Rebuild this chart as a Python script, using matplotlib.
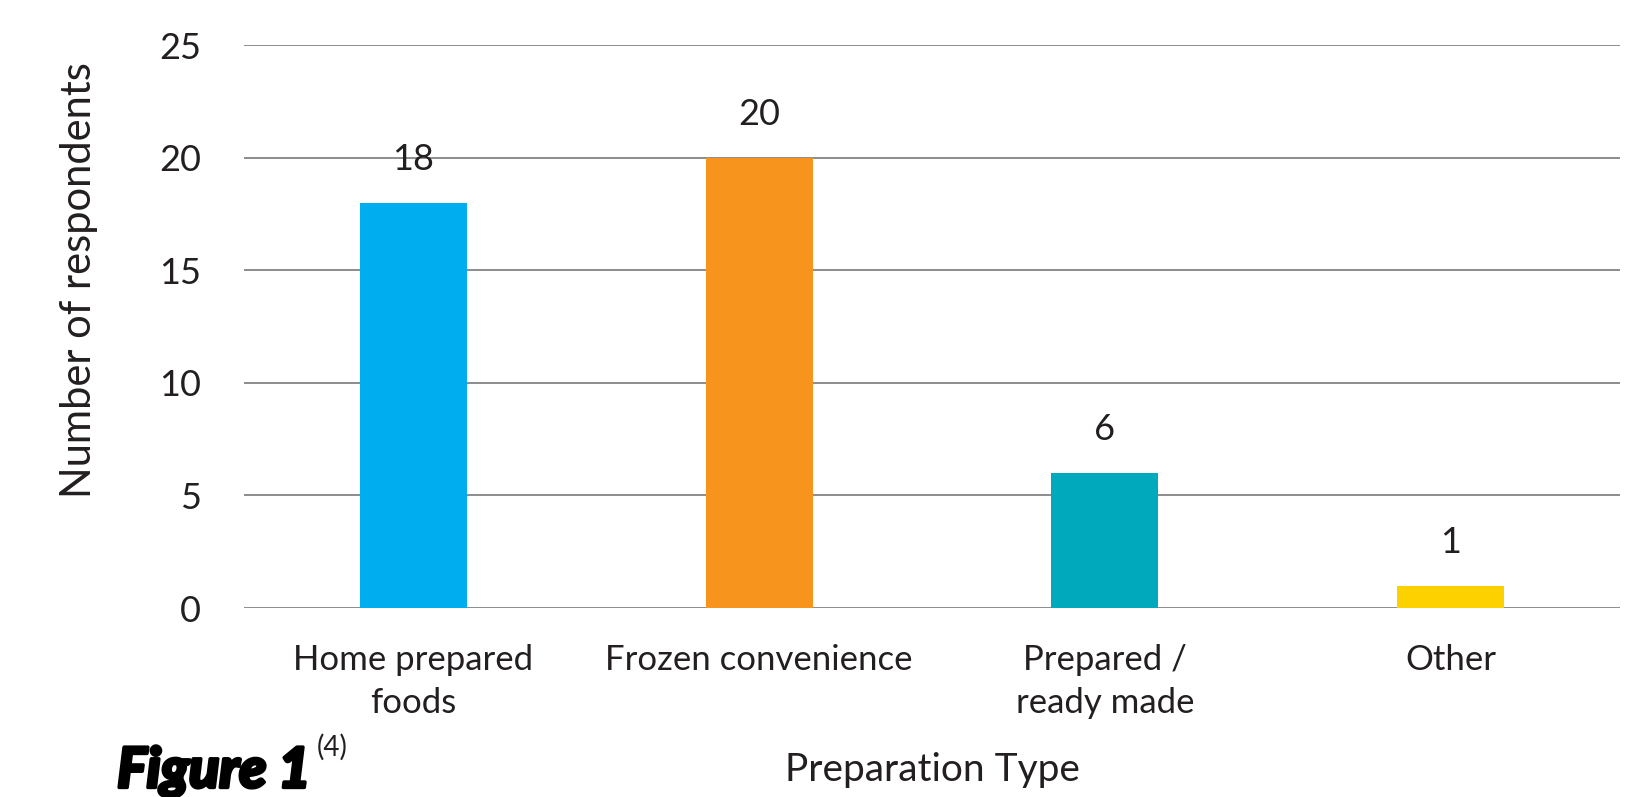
import matplotlib
matplotlib.use("Agg")
import matplotlib.pyplot as plt
import matplotlib.patheffects as pe
from matplotlib import rcParams

categories = ["Home prepared\nfoods", "Frozen convenience", "Prepared /\nready made", "Other"]
respondents = [18, 20, 6, 1]
bar_colors = ["#00AEEF", "#F7941E", "#00A9BB", "#FDD100"]
y_ticks = [0, 5, 10, 15, 20, 25]

TXT = "#231F20"
GRID = "#8C8C8C"

rcParams["font.family"] = ["Lato", "DejaVu Sans"]

fig = plt.figure(figsize=(16.51, 7.97), dpi=100)
ax = fig.add_axes([0.1478, 0.2371, 0.8334, 0.7064])

x = range(len(categories))
ax.bar(x, respondents, width=0.31, color=bar_colors, zorder=3)
for xi, v in zip(x, respondents):
    ax.annotate(str(v), (xi, v), xytext=(0, 31), textcoords="offset points",
                ha="center", va="center", fontsize=26, color=TXT)

ax.set_xlim(-0.49, 3.49)
ax.set_ylim(0, 25)
ax.set_yticks(y_ticks)
ax.set_yticklabels([str(t) for t in y_ticks], fontsize=26, color=TXT)
ax.set_xticks(list(x))
ax.set_xticklabels(categories, fontsize=25, color=TXT, linespacing=1.4)
ax.tick_params(axis="y", length=0, pad=31)
ax.tick_params(axis="x", length=0, pad=26)
ax.grid(axis="y", color=GRID, linewidth=1.4, zorder=0)
for sp in ax.spines.values():
    sp.set_visible(False)

# y label sits above the axes centre in the original
fig.text(0.048, 0.648, "Number of respondents", fontsize=30, color=TXT,
         rotation=90, ha="center", va="center")
fig.text(0.5645, 0.034, "Preparation Type", fontsize=28, color=TXT,
         ha="center", va="center")
fig.text(0.071, 0.012, "Figure 1", fontsize=40, fontweight="black",
         style="italic", color="black", ha="left", va="baseline",
         path_effects=[pe.withStroke(linewidth=2.5, foreground="black")])
fig.text(0.192, 0.052, "(4)", fontsize=20, color=TXT, ha="left", va="baseline")

fig.savefig("out.png", dpi=100)
